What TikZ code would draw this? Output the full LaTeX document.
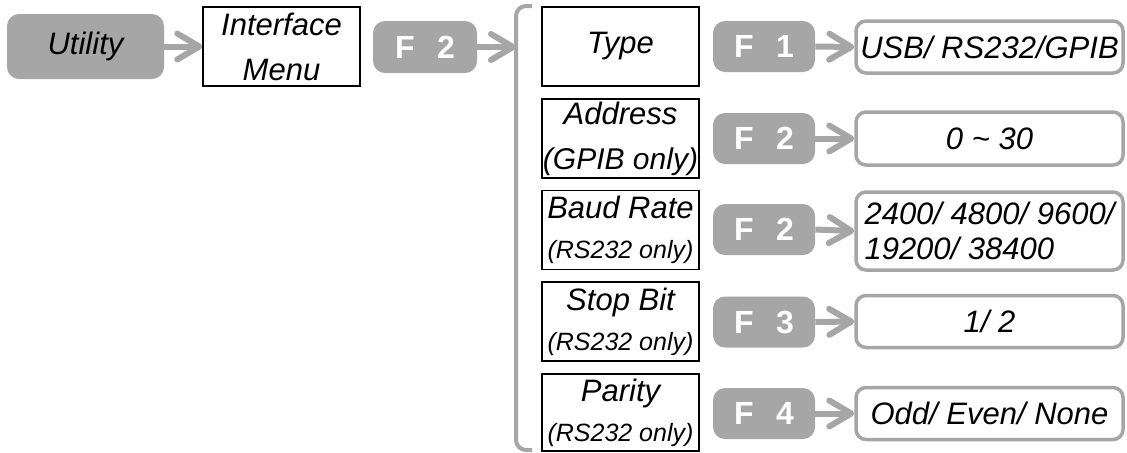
\documentclass[tikz,border=0pt]{standalone}
\usepackage{fontspec}
\setmainfont{Liberation Sans}
\usetikzlibrary{arrows.meta}

\definecolor{keygray}{RGB}{166,166,166}

\begin{document}
\begin{tikzpicture}[x=0.5pt,y=-0.5pt,
        menubox/.style={draw=black, line width=0.75pt, fill=white, minimum width=78.5pt,
            minimum height=39.5pt, inner sep=0pt, align=center,
            font=\fontsize{15.5}{22.5}\selectfont\itshape},
        keybox/.style={fill=keygray, rounded corners=6pt, minimum width=51pt,
            minimum height=25.5pt, inner sep=0pt, text=white,
            font=\fontsize{16}{19}\selectfont\bfseries},
        valbox/.style={draw=keygray, line width=1.75pt, fill=white, rounded corners=5pt,
            minimum width=133.5pt, minimum height=26pt, inner sep=0pt, align=center,
            font=\fontsize{15.5}{22.5}\selectfont\itshape},
        grayarrow/.style={draw=keygray, line width=3pt,
            -{Straight Barb[length=11pt 0, width=13pt 0, round]}}]
        \useasboundingbox (0,0) rectangle (1127,452);
        %utility key
        \node[fill=keygray, rounded corners=6pt, minimum width=78.5pt, minimum height=32.5pt,
            inner sep=0pt, font=\fontsize{15.5}{22.5}\selectfont\itshape] (util) at (85.5,46.5) {Utility};
        \node[menubox] (iface) at (281.5,46.5) {Interface\\Menu};
        \draw[grayarrow] (util.east) -- (iface.west);
        %F2 into the bracket
        \node[keybox, minimum width=52pt, minimum height=26pt] (fmain) at (425,47) {F\hspace{0.7em}2};
        \coordinate (brk) at (516,47);
        \draw[grayarrow] (fmain.east) -- (brk);
        \draw[keygray, line width=2pt, rounded corners=5pt] (532,6) -- (516,6) -- (516,450) -- (532,450);
        %menu column
        \node[menubox] (type) at (620.5,46.5) {Type};
        \node[menubox] (addr) at (620.5,138.5) {Address\\{\fontsize{15}{22.5}\selectfont(GPIB only)}};
        \node[menubox] (baud) at (620.5,230) {Baud Rate\\[-2.5pt]{\fontsize{12.5}{15}\selectfont(RS232 only)}};
        \node[menubox] (stop) at (620.5,321.5) {Stop Bit\\[-2.5pt]{\fontsize{12.5}{15}\selectfont(RS232 only)}};
        \node[menubox, minimum height=38.5pt] (par) at (620.5,412.5) {Parity\\[-2.5pt]{\fontsize{12.5}{15}\selectfont(RS232 only)}};
        %soft keys
        \node[keybox] (ktype) at (764,46.5) {F\hspace{0.7em}1};
        \node[keybox] (kaddr) at (764,138.5) {F\hspace{0.7em}2};
        \node[keybox] (kbaud) at (764,229.5) {F\hspace{0.7em}2};
        \node[keybox] (kstop) at (764,322) {F\hspace{0.7em}3};
        \node[keybox] (kpar) at (764,413.5) {F\hspace{0.7em}4};
        %values
        \node[valbox] (vtype) at (989.5,47) {USB/ RS232/GPIB};
        \node[valbox, minimum height=26.5pt] (vaddr) at (989.5,138.5) {0 \textasciitilde\ 30};
        \node[valbox, minimum height=39pt, align=left] (vbaud) at (989.5,231) {2400/ 4800/ 9600/\\[-5pt]19200/ 38400};
        \node[valbox] (vstop) at (989.5,321.5) {1/ 2};
        \node[valbox] (vpar) at (989.5,413.5) {Odd/ Even/ None};
        \draw[grayarrow] (ktype.east) -- (vtype.west);
        \draw[grayarrow] (kaddr.east) -- (vaddr.west);
        \draw[grayarrow] (kbaud.east) -- (vbaud.west);
        \draw[grayarrow] (kstop.east) -- (vstop.west);
        \draw[grayarrow] (kpar.east) -- (vpar.west);
    \end{tikzpicture}
\end{document}
